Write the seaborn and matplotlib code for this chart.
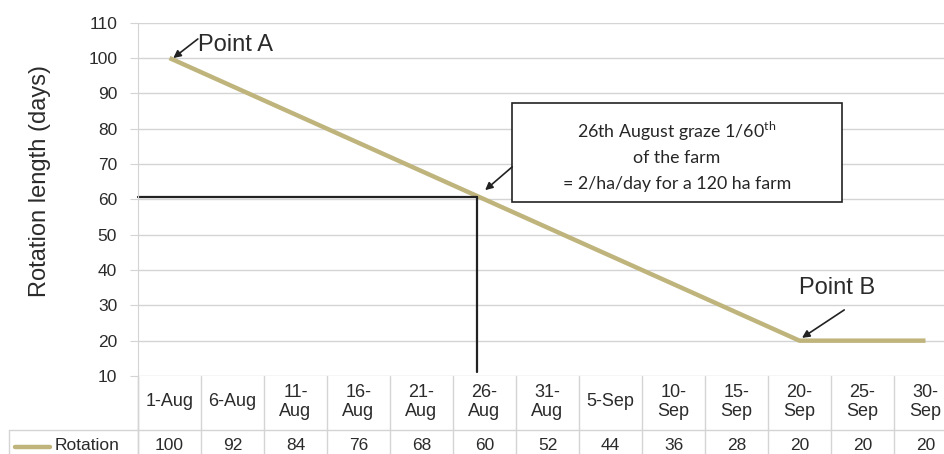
import numpy as np
import matplotlib
matplotlib.use("Agg")
import matplotlib.pyplot as plt
from matplotlib.patches import Rectangle
from matplotlib.transforms import blended_transform_factory
import seaborn as sns

# ── data ──
dates = ["1-Aug", "6-Aug", "11-\nAug", "16-\nAug", "21-\nAug", "26-\nAug", "31-\nAug",
         "5-Sep", "10-\nSep", "15-\nSep", "20-\nSep", "25-\nSep", "30-\nSep"]
rotation = [100, 92, 84, 76, 68, 60, 52, 44, 36, 28, 20, 20, 20]
y_ticks = [10, 20, 30, 40, 50, 60, 70, 80, 90, 100, 110]
series_name = "Rotation"
pick_value = 60
pick_index = 5

LINE = "#BFB47C"
GRID = "#D4D4D4"
INK = "#222222"
TXT = "#2b2b2b"

sns.set_style("white")
plt.rcParams["font.family"] = ["Liberation Sans", "DejaVu Sans"]
plt.rcParams["mathtext.fontset"] = "custom"
plt.rcParams["mathtext.rm"] = "Lato"

fig = plt.figure(figsize=(9.45, 4.54), dpi=100)
W, H = 945, 454
ax = fig.add_axes([138 / W, 1 - 376 / H, 819 / W, 353.3 / H])

x = np.arange(len(dates))
sns.lineplot(x=x, y=rotation, ax=ax, color=LINE, linewidth=3.2, solid_capstyle="butt")

ax.set_xlim(-0.5, len(dates) - 0.5)
ax.set_ylim(10, 110)
ax.set_yticks(y_ticks)
ax.set_xticks([])
ax.yaxis.grid(True, color=GRID, linewidth=1)
ax.set_axisbelow(True)
for s in ["top", "right", "bottom"]:
    ax.spines[s].set_visible(False)
ax.spines["left"].set_color(GRID)
ax.tick_params(axis="y", length=6, color=GRID, labelsize=12.5, pad=9, left=True,
               labelcolor=TXT)
ax.set_ylabel("")
fig.text(40 / W, 1 - 181 / H, "Rotation length (days)", rotation=90,
         ha="center", va="center", fontsize=17, color=TXT)

# ── data table under the axis ──
bx = blended_transform_factory(ax.transData, ax.transAxes)
def ay(py):
    return (376 - py) / 353.3

for i in range(len(dates) + 1):
    ax.plot([i - 0.5, i - 0.5], [0, ay(470)], transform=bx, color=GRID,
            lw=1, clip_on=False)
ax.plot([-0.1575, 1.1], [ay(430), ay(430)], transform=ax.transAxes, color=GRID,
        lw=1, clip_on=False)
ax.plot([-0.1575, -0.1575], [ay(430), ay(470)], transform=ax.transAxes, color=GRID,
        lw=1, clip_on=False)
ax.plot([0, 0], [0, ay(470)], transform=ax.transAxes, color=GRID, lw=1, clip_on=False)

for i, (d, v) in enumerate(zip(dates, rotation)):
    ax.text(i, ay(402), d, transform=bx, ha="center", va="center",
            fontsize=13, linespacing=1.1, color=TXT)
    ax.text(i, ay(446), str(v), transform=bx, ha="center", va="center",
            fontsize=12.5, color=TXT)
ax.plot([(15 - 138) / 819, (50 - 138) / 819], [ay(447), ay(447)],
        transform=ax.transAxes, color=LINE, lw=3.2, clip_on=False)
ax.text((120 - 138) / 819, ay(446), series_name, transform=ax.transAxes,
        ha="right", va="center", fontsize=12.5, color=TXT)

# ── annotations ──
ax.plot([-0.5, pick_index - 0.12], [pick_value + 0.6, pick_value + 0.6],
        color=INK, lw=1.6, clip_on=False)
ax.plot([pick_index - 0.12, pick_index - 0.12], [11, pick_value + 0.6],
        color=INK, lw=1.6)

arrow = dict(arrowstyle="-|>", color=INK, lw=1.2, mutation_scale=11,
             shrinkA=0, shrinkB=0)
ax.annotate("", xy=(0.06, 100), xytext=(0.45, 105.4), arrowprops=arrow)
ax.text(0.46, 103.7, "Point A", ha="left", va="center", fontsize=17, color=TXT)

ax.annotate("", xy=(10.04, 20.8), xytext=(10.71, 28.7), arrowprops=arrow)
ax.text(10.0, 34.9, "Point B", ha="left", va="center", fontsize=17, color=TXT)

ax.add_patch(Rectangle((5.44, 59.25), 10.67 - 5.44, 87.3 - 59.25,
                       facecolor="white", edgecolor=INK, lw=1.2, zorder=3))
ax.annotate("", xy=(5.01, 62.6), xytext=(5.44, 69.2), arrowprops=arrow)
box_cx = (5.44 + 10.67) / 2
ax.text(box_cx, 77.4, r"26th August graze 1/60$^{\mathrm{th}}$", ha="center",
        va="baseline", fontsize=12.8, family="Lato", zorder=4)
ax.text(box_cx, 70.3, "of the farm", ha="center", va="baseline",
        fontsize=12.8, family="Lato", zorder=4)
ax.text(box_cx, 62.8, "= 2/ha/day for a 120 ha farm", ha="center",
        va="baseline", fontsize=12.8, family="Lato", zorder=4)

fig.savefig("out.png", dpi=100)
